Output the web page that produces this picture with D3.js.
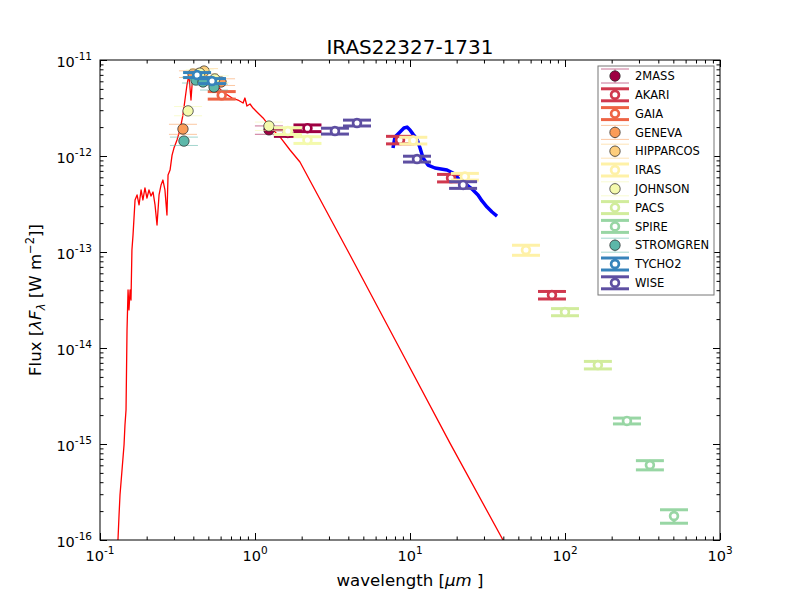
<!DOCTYPE html>
<html>
<head>
<meta charset="utf-8">
<script src="https://cdn.jsdelivr.net/npm/d3@7"></script>
<style>
  body { margin: 0; background: #fff; }
  text { font-family: "DejaVu Sans", sans-serif; }
</style>
</head>
<body>
<script>
const width = 800, height = 600;
const plot = {left: 100, right: 720, top: 60, bottom: 540};

// photometric systems, in legend order
const systems = ['2MASS', 'AKARI', 'GAIA', 'GENEVA', 'HIPPARCOS', 'IRAS',
                 'JOHNSON', 'PACS', 'SPIRE', 'STROMGREN', 'TYCHO2', 'WISE'];
// matplotlib Spectral sampled for 12 systems
const systemColors = ['#9e0142', '#d0384e', '#ee6445', '#fa9c59', '#fece7c', '#fef1a7',
                      '#f4faad', '#d1ec9c', '#98d6a4', '#5cb7a9', '#3683bb', '#5e4fa2'];
// which systems are drawn as filled markers in the legend
const systemFilled = [true, false, false, true, true, false, true, false, false, true, false, false];

// photometry: band system, wavelength [um], lambda*F_lambda [W m-2], relative error, used in fit
const photBand = ['2MASS', '2MASS', '2MASS',
                  'AKARI', 'AKARI', 'AKARI',
                  'GAIA',
                  'GENEVA', 'GENEVA', 'GENEVA',
                  'HIPPARCOS',
                  'IRAS', 'IRAS', 'IRAS',
                  'JOHNSON', 'JOHNSON', 'JOHNSON', 'JOHNSON', 'JOHNSON', 'JOHNSON',
                  'PACS', 'PACS',
                  'SPIRE', 'SPIRE', 'SPIRE',
                  'STROMGREN', 'STROMGREN', 'STROMGREN', 'STROMGREN',
                  'TYCHO2', 'TYCHO2',
                  'WISE', 'WISE', 'WISE', 'WISE'];
const photWave = [1.23, 1.63, 2.18,
                  8.62, 18.4, 82.4,
                  0.61,
                  0.343, 0.398, 0.604,
                  0.469,
                  10.5, 22.6, 56.0,
                  0.37, 0.44, 0.55, 1.23, 1.63, 2.18,
                  100, 163,
                  251, 353, 505,
                  0.348, 0.416, 0.462, 0.544,
                  0.423, 0.528,
                  3.28, 4.55, 11.1, 22.0];
const photFlux = [1.87e-12, 1.74e-12, 1.95e-12,
                  1.47e-12, 5.9e-13, 3.56e-14,
                  4.3e-12,
                  1.91e-12, 7.14e-12, 5.9e-12,
                  7.67e-12,
                  1.45e-12, 6.1e-13, 1.05e-13,
                  2.95e-12, 7.3e-12, 6.34e-12, 2.05e-12, 1.82e-12, 1.47e-12,
                  2.37e-14, 6.65e-15,
                  1.74e-15, 6.04e-16, 1.78e-16,
                  1.43e-12, 6.19e-12, 5.9e-12, 5.23e-12,
                  6.98e-12, 6.04e-12,
                  1.82e-12, 2.21e-12, 9.3e-13, 5.0e-13];
const photErr = [0.10, 0.08, 0.08,
                 0.09, 0.09, 0.09,
                 0.09,
                 0.12, 0.08, 0.08,
                 0.06,
                 0.08, 0.08, 0.12,
                 0.11, 0.08, 0.08, 0.10, 0.08, 0.08,
                 0.085, 0.09,
                 0.07, 0.11, 0.16,
                 0.10, 0.07, 0.07, 0.07,
                 0.06, 0.06,
                 0.07, 0.07, 0.07, 0.08];
const photUsed = [true, false, false,
                  false, false, false,
                  false,
                  true, true, true,
                  true,
                  false, false, false,
                  true, true, true, true, false, false,
                  false, false,
                  false, false, false,
                  true, true, true, true,
                  false, false,
                  false, false, false, false];

// model SED (red)
const modelWave = [0.1306, 0.1327, 0.1346, 0.1387, 0.1429, 0.1449, 0.1472, 0.1494, 0.1517, 0.1538,
                   0.1563, 0.1585, 0.1607, 0.1633, 0.1683, 0.1734, 0.1786, 0.1841, 0.1892, 0.1950,
                   0.2009, 0.2070, 0.2133, 0.2198, 0.2265, 0.2333, 0.2404, 0.2477, 0.2547, 0.2624,
                   0.2704, 0.2748, 0.2831, 0.2917, 0.3000, 0.3140, 0.3281, 0.3428, 0.3532, 0.3639,
                   0.3750, 0.3864, 0.3981, 0.4159, 0.4355, 0.4550, 0.4755, 0.4977, 0.5200, 0.5433,
                   0.5689, 0.5943, 0.6223, 0.6501, 0.7112, 0.7762, 0.8375, 0.8610, 0.8872, 0.9290,
                   0.9707, 1.0447, 1.1272, 1.1940, 1.3062, 1.4488, 1.6827, 1.9498, 4.102, 8.616,
                   18.11, 39.81];
const modelFlux = [1.0e-16, 1.82e-16, 2.94e-16, 5.36e-16, 9.77e-16, 1.58e-15, 2.26e-15, 1.54e-14, 4.02e-14, 2.49e-14,
                   4.02e-14, 3.16e-14, 1.05e-13, 1.50e-13, 3.48e-13, 3.93e-13, 3.09e-13, 4.43e-13, 3.48e-13, 4.65e-13,
                   3.65e-13, 4.43e-13, 3.83e-13, 4.22e-13, 3.09e-13, 1.91e-13, 3.93e-13, 4.99e-13, 5.62e-13, 4.43e-13,
                   2.43e-13, 6.34e-13, 7.14e-13, 1.02e-12, 1.21e-12, 1.47e-12, 1.87e-12, 2.67e-12, 3.83e-12, 5.49e-12,
                   6.98e-12, 3.83e-12, 7.50e-12, 7.87e-12, 8.06e-12, 7.50e-12, 7.14e-12, 6.65e-12, 6.19e-12, 5.75e-12,
                   5.36e-12, 4.99e-12, 4.64e-12, 4.43e-12, 4.02e-12, 3.83e-12, 3.56e-12, 4.02e-12, 3.32e-12, 3.48e-12,
                   3.16e-12, 2.81e-12, 2.49e-12, 2.21e-12, 1.87e-12, 1.58e-12, 1.155e-12, 8.66e-13, 9.31e-14, 9.77e-15,
                   1.02e-15, 1.0e-16];

// observed IR spectrum (blue)
const specWave = [7.77, 8.00, 8.62, 9.14, 9.57, 10.0, 10.45, 11.09, 11.61, 12.14,
                  13.06, 14.49, 15.85, 17.33, 18.94, 20.42, 21.99, 23.33, 25.49, 27.46,
                  29.15, 31.42, 33.84, 36.43];
const specFlux = [1.21e-12, 1.58e-12, 1.78e-12, 1.96e-12, 2.00e-12, 1.87e-12, 1.69e-12, 1.50e-12, 1.21e-12, 9.53e-13,
                  8.05e-13, 7.50e-13, 7.33e-13, 7.14e-13, 6.65e-13, 5.90e-13, 5.36e-13, 4.99e-13, 4.43e-13, 3.93e-13,
                  3.40e-13, 2.94e-13, 2.61e-13, 2.37e-13];

const xTicks = [0.1, 1, 10, 100, 1000];
const yTicks = [1e-16, 1e-15, 1e-14, 1e-13, 1e-12, 1e-11];

const svg = d3.select('body').append('svg')
    .attr('width', width).attr('height', height);

const x = d3.scaleLog().domain([0.1, 1000]).range([plot.left, plot.right]);
const y = d3.scaleLog().domain([1e-16, 1e-11]).range([plot.bottom, plot.top]);

svg.append('clipPath').attr('id', 'clip')
  .append('rect')
    .attr('x', plot.left).attr('y', plot.top)
    .attr('width', plot.right - plot.left).attr('height', plot.bottom - plot.top);

// lines (behind photometry)
const line = d3.line().x(d => x(d[0])).y(d => y(d[1]));
const lines = svg.append('g').attr('clip-path', 'url(#clip)');
lines.append('path')
    .datum(specWave.map((w, i) => [w, specFlux[i]]))
    .attr('d', line)
    .attr('fill', 'none').attr('stroke', '#0000ff')
    .attr('stroke-width', 3.5).attr('stroke-linejoin', 'round');
lines.append('path')
    .datum(modelWave.map((w, i) => [w, modelFlux[i]]))
    .attr('d', line)
    .attr('fill', 'none').attr('stroke', '#ff0000')
    .attr('stroke-width', 1.3).attr('stroke-linejoin', 'round');

// errorbar marker: caps at +/- err, filled (thin bars) or open (thick bars)
const capHalf = 14;
function marker(g, cx, cy, yUp, yDn, color, filled) {
  const bar = g.append('g')
      .attr('stroke', color)
      .attr('stroke-width', filled ? 1 : 3)
      .attr('opacity', filled ? 0.55 : 1);
  bar.append('line').attr('x1', cx).attr('x2', cx).attr('y1', yUp).attr('y2', yDn);
  [yUp, yDn].forEach(v => bar.append('line')
      .attr('x1', cx - capHalf).attr('x2', cx + capHalf).attr('y1', v).attr('y2', v));
  if (filled) {
    g.append('circle').attr('cx', cx).attr('cy', cy).attr('r', 5.2)
        .attr('fill', color).attr('stroke', '#222').attr('stroke-width', 0.7);
  } else {
    g.append('circle').attr('cx', cx).attr('cy', cy).attr('r', 3.9)
        .attr('fill', '#fff').attr('stroke', color).attr('stroke-width', 2.7);
  }
}

const points = svg.append('g');
systems.forEach((s, si) => {
  photBand.forEach((b, i) => {
    if (b !== s) return;
    const f = photFlux[i], e = photErr[i];
    marker(points, x(photWave[i]), y(f), y(f * (1 + e)), y(f * (1 - e)),
           systemColors[si], photUsed[i]);
  });
});

// axes: inside ticks on all four sides
const minor = (lo, hi) => {
  const out = [];
  for (let p = lo; p < hi; p++) for (let k = 2; k <= 9; k++) out.push(k * Math.pow(10, p));
  return out;
};
const xMinor = minor(-1, 3), yMinor = minor(-16, -11);
const axes = [
  [d3.axisBottom(x), xTicks, xMinor, `translate(0,${plot.bottom})`],
  [d3.axisTop(x), xTicks, xMinor, `translate(0,${plot.top})`],
  [d3.axisLeft(y), yTicks, yMinor, `translate(${plot.left},0)`],
  [d3.axisRight(y), yTicks, yMinor, `translate(${plot.right},0)`]
];
axes.forEach(([ax, major, mnr, tr]) => {
  [[major, 7], [mnr, 3.5]].forEach(([vals, len]) => {
    const g = svg.append('g').attr('transform', tr)
        .call(ax.tickValues(vals).tickSize(-len).tickFormat(''));
    g.select('.domain').remove();
    g.selectAll('line').attr('stroke', '#000').attr('stroke-width', 1);
  });
});

svg.append('rect')
    .attr('x', plot.left).attr('y', plot.top)
    .attr('width', plot.right - plot.left).attr('height', plot.bottom - plot.top)
    .attr('fill', 'none').attr('stroke', '#000').attr('stroke-width', 1);

// tick labels 10^n
function powLabel(sel, v) {
  const p = Math.round(Math.log10(v));
  sel.append('tspan').text('10');
  sel.append('tspan').attr('dy', -7).attr('font-size', 10.5).text(p);
}
xTicks.forEach(v => {
  svg.append('text').attr('x', x(v)).attr('y', 561)
      .attr('text-anchor', 'middle').attr('font-size', 14.5)
      .call(powLabel, v);
});
yTicks.forEach(v => {
  svg.append('text').attr('x', 92).attr('y', y(v) + 6.5)
      .attr('text-anchor', 'end').attr('font-size', 14.5)
      .call(powLabel, v);
});

// title and axis labels
svg.append('text').attr('x', (plot.left + plot.right) / 2).attr('y', 54)
    .attr('text-anchor', 'middle').attr('font-size', 20).text('IRAS22327-1731');

const xl = svg.append('text').attr('x', (plot.left + plot.right) / 2).attr('y', 586)
    .attr('text-anchor', 'middle').attr('font-size', 16.6);
xl.append('tspan').text('wavelength [');
xl.append('tspan').attr('font-style', 'italic').text('μm');
xl.append('tspan').text(' ]');

const yl = svg.append('text')
    .attr('transform', `translate(41,${(plot.top + plot.bottom) / 2}) rotate(-90)`)
    .attr('text-anchor', 'middle').attr('font-size', 16.6);
yl.append('tspan').text('Flux [');
yl.append('tspan').attr('font-style', 'italic').text('λF');
yl.append('tspan').attr('font-style', 'italic').attr('font-size', 11.5).attr('dy', 4).text('λ');
yl.append('tspan').attr('dy', -4).text(' [W  m');
yl.append('tspan').attr('font-size', 11.5).attr('dy', -7).text('−2');
yl.append('tspan').attr('dy', 7).text(']]');

// legend
const legend = svg.append('g');
legend.append('rect')
    .attr('x', 598).attr('y', 66).attr('width', 116).attr('height', 229)
    .attr('fill', '#fff').attr('stroke', '#777').attr('stroke-width', 1);
systems.forEach((s, i) => {
  const cy = 76 + i * 18.8;
  const filled = systemFilled[i];
  const h = filled ? 7 : 6;
  marker(legend, 615, cy, cy - h, cy + h, systemColors[i], filled);
  legend.append('text').attr('x', 635).attr('y', cy + 4.2)
      .attr('font-size', 11.5).text(s);
});
</script>
</body>
</html>
